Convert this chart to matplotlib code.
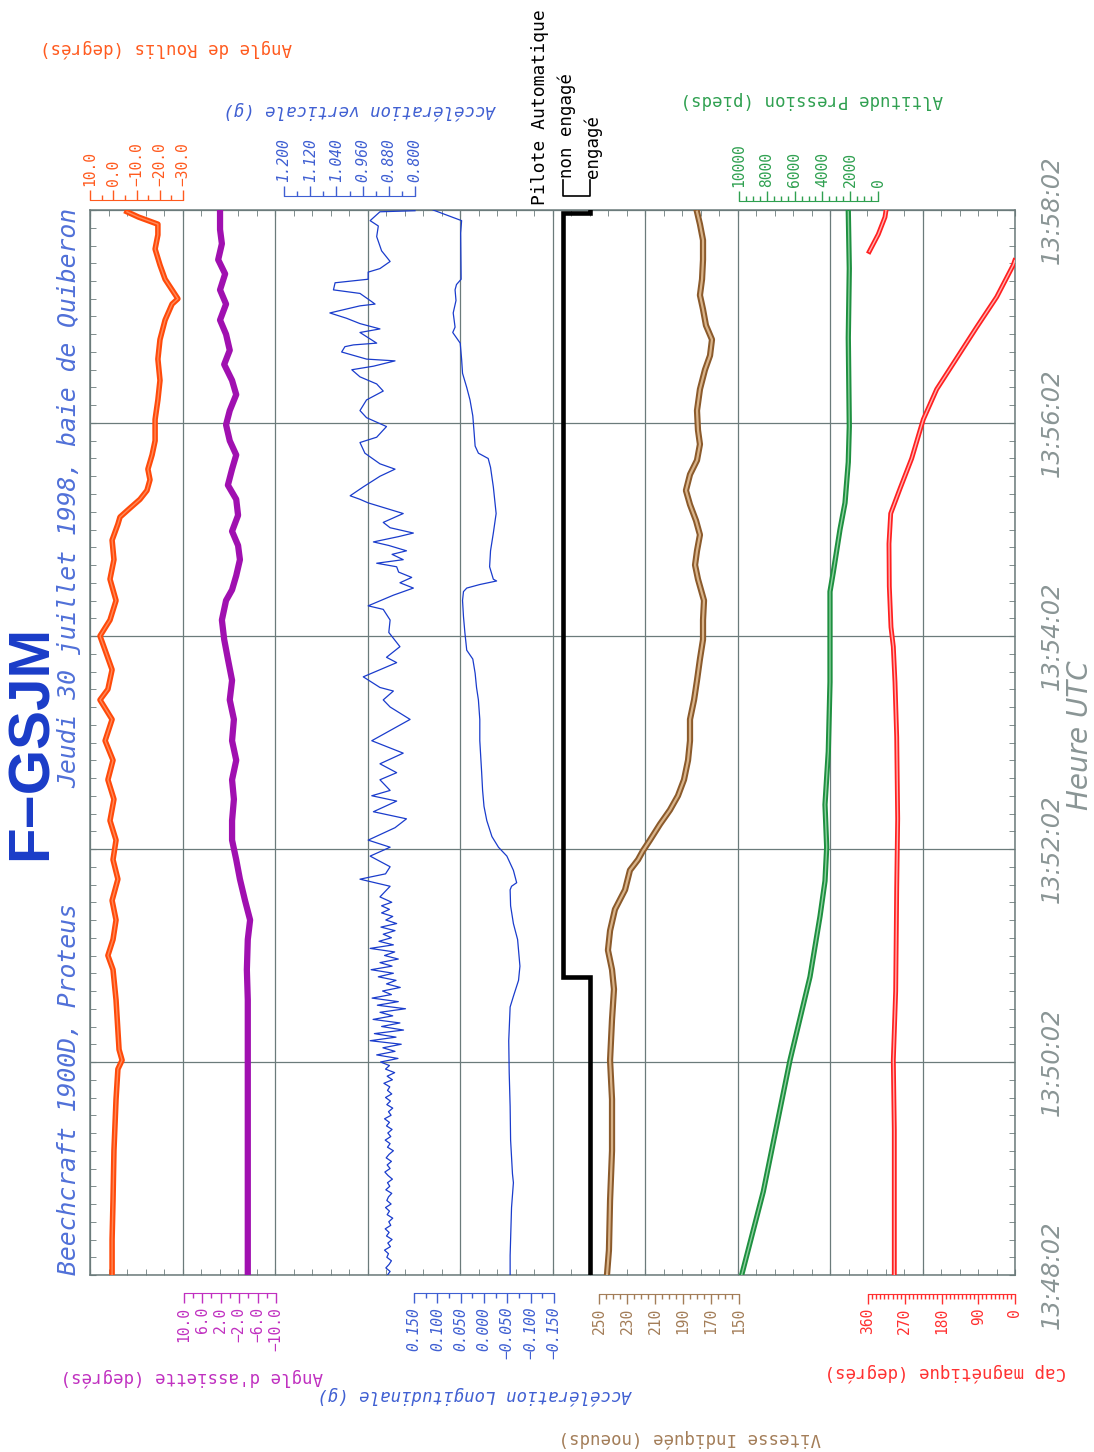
import numpy as np
import matplotlib.pyplot as plt
from matplotlib.ticker import MultipleLocator
from matplotlib.transforms import blended_transform_factory
from matplotlib.lines import Line2D

plt.rcParams['font.family'] = ['DejaVu Sans Mono', 'DejaVu Sans']

# ---- data (time in seconds after 13:48:02) ----
roll_t = [0, 20, 42, 70, 99, 116, 121, 127, 155, 172, 180, 189, 200, 211, 223, 234, 245, 256, 268, 279,
          290, 301, 313, 324, 330, 341, 352, 360, 369, 380, 392, 403, 414, 423, 427, 431, 437, 442, 448,
          454, 462, 470, 482, 493, 504, 516, 527, 538, 547, 550, 555, 561, 569, 578, 586, 592, 596, 599]
roll_v = [0.5, 0.5, 0.1, -0.3, -1.2, -2.0, -3.8, -2.5, -1.2, 0.1, 2.3, 0.1, -1.2, 0.5, -2.0, 0.1, -1.2, 1.4,
          -0.3, 2.3, 0.1, 3.5, 0.5, 5.7, 2.3, 0.5, 3.5, 5.7, 1.4, -1.2, 1.4, -0.3, 0.5, -2.0, -2.9, -6.3,
          -11.5, -14.5, -15.8, -14.9, -16.7, -18.0, -18.0, -19.2, -20.1, -19.2, -20.1, -22.3, -25.3, -27.8,
          -25.3, -22.3, -20.1, -18.0, -19.2, -19.2, -10.9, -5.9]

pitch_t = [0, 42, 99, 155, 172, 189, 200, 211, 223, 234, 245, 256, 268, 279, 290, 301, 313, 324, 335, 347,
           358, 369, 380, 386, 394, 403, 411, 419, 428, 437, 445, 454, 462, 470, 479, 487, 496, 504, 513,
           521, 530, 538, 547, 555, 564, 572, 581, 589, 599]
pitch_v = [-3.9, -3.9, -3.9, -3.9, -3.7, -3.9, -4.4, -3.3, -2.2, -1.4, -0.5, -0.5, -0.9, -0.5, -1.4, -0.5,
           -0.9, 0.0, -0.5, 0.4, 1.2, 1.7, 0.8, -0.5, -1.4, -2.2, -1.8, -0.5, -1.8, -1.4, 0.4, -0.5, -1.4,
           0.0, 0.8, 0.0, -1.4, -0.5, 1.2, 0.0, 0.8, 2.1, 0.8, 2.1, 1.0, 2.5, 1.7, 2.1, 2.1]

# vertical acceleration: 2 s samples from 0 to 116 s, then 118 to 210 s, then read points
accv_a = [0.884, 0.876, 0.889, 0.879, 0.872, 0.886, 0.881, 0.893, 0.875, 0.883, 0.870, 0.887, 0.879,
          0.891, 0.874, 0.880, 0.868, 0.885, 0.878, 0.890, 0.873, 0.886, 0.881, 0.871, 0.889, 0.877, 0.884,
          0.869, 0.882, 0.892, 0.876, 0.885, 0.872, 0.888, 0.879, 0.866, 0.884, 0.876, 0.891, 0.874, 0.883,
          0.870, 0.887, 0.878, 0.893, 0.873, 0.881, 0.868, 0.886, 0.875, 0.890, 0.871, 0.884, 0.877, 0.895,
          0.869, 0.885, 0.862, 0.890]
accv_b = [0.878, 0.905, 0.852, 0.917, 0.861, 0.898, 0.842, 0.937, 0.858, 0.924, 0.835, 0.902, 0.846,
          0.928, 0.868, 0.907, 0.829, 0.915, 0.851, 0.931, 0.872, 0.899, 0.845, 0.887, 0.858, 0.912, 0.866,
          0.934, 0.870, 0.907, 0.851, 0.893, 0.862, 0.937, 0.866, 0.910, 0.872, 0.897, 0.861, 0.904, 0.856,
          0.889, 0.868, 0.902, 0.878, 0.902, 0.871]
accv_c_t = [213, 219, 223, 226, 230, 236, 241, 245, 252, 257, 261, 267, 270, 273, 279, 283, 288, 294, 301,
            313, 320, 324, 329, 331, 337, 345, 348, 354, 362, 369, 375, 377, 383, 387, 390, 393, 396, 399,
            401, 403, 406, 408, 411, 413, 416, 418, 421, 424, 429, 433, 435, 437, 439, 444, 450, 454, 457,
            463, 469, 472, 478, 483, 487, 493, 498, 502, 506, 510, 512, 515, 516, 520, 523, 524, 525, 531,
            533, 536, 539, 542, 546, 547, 549, 553, 555, 559, 561, 565, 567, 571, 577, 585, 591, 594, 599,
            599.6]
accv_c_v = [0.907, 0.876, 0.968, 0.890, 0.876, 0.937, 0.876, 0.943, 0.861, 0.826, 0.927,
            0.856, 0.932, 0.876, 0.907, 0.856, 0.907, 0.836, 0.932, 0.815, 0.876, 0.897, 0.866, 0.907, 0.958,
            0.856, 0.887, 0.846, 0.880, 0.876, 0.897, 0.943, 0.866, 0.805, 0.846, 0.810, 0.850, 0.856, 0.917,
            0.836, 0.870, 0.826, 0.880, 0.927, 0.850, 0.805, 0.876, 0.897, 0.836, 0.907, 0.943, 0.968, 0.998,
            0.958, 0.907, 0.861, 0.907, 0.953, 0.968, 0.917, 0.887, 0.948, 0.968, 0.948, 0.897, 0.917, 0.968,
            0.993, 0.927, 0.861, 0.948, 1.024, 1.014, 0.988, 0.917, 0.968, 0.907, 0.968, 1.009, 1.060, 0.968,
            0.922, 0.937, 0.968, 1.049, 1.044, 0.943, 0.943, 0.907, 0.876, 0.902, 0.917, 0.912, 0.937, 0.907,
            0.800]

accl_t = [0, 11, 20, 38, 52, 57, 76, 95, 114, 132, 151, 157, 166, 174, 189, 198, 208, 217, 219, 221, 228,
          236, 241, 247, 256, 264, 273, 283, 292, 301, 313, 324, 331, 339, 347, 352, 362, 371, 380, 385,
          387, 389, 391, 392, 399, 408, 418, 429, 444, 455, 460, 463, 467, 474, 484, 493, 500, 508, 516,
          525, 528, 531, 534, 542, 549, 555, 558, 561, 587, 594, 600]
accl_v = [-0.056, -0.056, -0.057, -0.059, -0.063, -0.061, -0.057, -0.056, -0.054, -0.053, -0.056, -0.063,
          -0.074, -0.077, -0.072, -0.063, -0.057, -0.056, -0.059, -0.070, -0.063, -0.049, -0.031, -0.017,
          -0.006, 0.000, 0.003, 0.005, 0.007, 0.009, 0.009, 0.012, 0.016, 0.019, 0.024, 0.037, 0.041, 0.044,
          0.046, 0.044, 0.037, 0.009, -0.027, -0.020, -0.012, -0.014, -0.020, -0.026, -0.020, -0.014,
          -0.009, 0.012, 0.019, 0.021, 0.024, 0.030, 0.037, 0.046, 0.048, 0.051, 0.059, 0.067, 0.062,
          0.066, 0.060, 0.062, 0.059, 0.049, 0.050, 0.048, 0.109]

pilot_t = [0, 168, 598.5, 600]
pilot_v = [0, 1, 0, 0]  # 0 = engagé, 1 = non engagé

speed_t = [0, 14, 42, 70, 99, 121, 144, 161, 172, 183, 194, 206, 217, 228, 234, 239, 245, 254, 262, 270,
           279, 290, 301, 313, 324, 335, 347, 358, 369, 380, 392, 400, 408, 417, 425, 434, 442, 451, 459,
           468, 476, 487, 499, 510, 518, 527, 535, 544, 552, 561, 572, 583, 592, 599]
speed_v = [244.3, 242.9, 242.1, 240.7, 240.7, 242.1, 240.7, 239.3, 240.7, 243.6, 242.1, 238.6, 231.4,
           227.9, 222.1, 218.6, 213.6, 206.4, 199.3, 193.6, 189.3, 186.4, 185.0, 185.0, 182.1, 180.0,
           177.9, 175.7, 175.7, 175.0, 179.3, 181.4, 180.0, 177.9, 180.7, 185.0, 187.9, 185.0, 180.0,
           177.9, 179.3, 180.0, 177.9, 174.3, 170.7, 169.3, 173.6, 175.7, 177.9, 176.4, 175.7, 175.7,
           177.9, 180.0]

alt_t = [0, 47, 121, 168, 202, 222, 241, 265, 295, 334, 385, 396, 420, 435, 458, 478, 528, 567, 599]
alt_v = [9806, 8252, 6331, 4892, 4173, 3813, 3691, 3813, 3575, 3453, 3453, 3216, 2734, 2374, 2137, 2065,
         2137, 2065, 2137]

cap_t = [0, 82, 121, 160, 218, 257, 303, 334, 354, 365, 388, 412, 429, 443, 460, 482, 499, 516.5, 534,
         551, 569, 571.5, 576.6, 586.3, 596, 599.8]
cap_v = [295.6, 295.6, 298.0, 292.2, 289.7, 287.3, 289.7, 293.9, 298.0, 303.7, 307.8, 308.6, 304.4, 281.6,
         253.0, 224.6, 191.8, 142.8, 93.8, 44.8, 4.2, 0.5, 356.8, 334.8, 318.4, 315.9]

time_ticks = [0, 120, 240, 360, 480, 600]
t0 = 13 * 3600 + 48 * 60 + 2

# ---- figure ----
W, H = 1094, 1452
fig = plt.figure(figsize=(W / 100, H / 100), dpi=100)


def fx(x):
    return x / W


def fy(y):
    return 1 - y / H


L, R, T, B = 90, 1015, 210, 1275
FRAME = '#6b7b7b'
GREY = '#8a9595'

ax = fig.add_axes([fx(L), fy(B), (R - L) / W, (B - T) / H])
ax.set_xlim(0, 10)
ax.set_ylim(0, 600)
for s in ax.spines.values():
    s.set_color(FRAME)
    s.set_linewidth(1.1)
ax.set_xticks(np.arange(0, 11, 1))
ax.xaxis.set_minor_locator(MultipleLocator(0.2))
ax.tick_params(axis='x', which='both', direction='in', top=True, bottom=True,
               labelbottom=False, length=4, color=FRAME)


def hms(t):
    s = t0 + int(round(t))
    return f"{s // 3600}:{s % 3600 // 60:02d}:{s % 60:02d}"


ax.set_yticks(time_ticks, [hms(t) for t in time_ticks], family='DejaVu Sans', fontstyle='italic',
              fontsize=17.5, color=GREY, rotation=90, va='center', ha='left')
ax.yaxis.set_minor_locator(MultipleLocator(10))
ax.tick_params(axis='y', which='both', direction='in', left=True, right=True, labelleft=False,
               labelright=True, length=4.5, color=FRAME, pad=18)
ax.grid(True, which='major', color=FRAME, lw=0.9)
ax.set_axisbelow(True)


def channel(v1, p1, v2, p2):
    c = fig.add_axes(ax.get_position().bounds, sharey=ax)
    k = (v2 - v1) / (p2 - p1)
    c.set_xlim(v1 + (L - p1) * k, v1 + (R - p1) * k)
    c.axis('off')
    return c


def scale(v1, p1, v2, p2, ybar, side, major, minor, fmt, color, italic=False):
    s = fig.add_axes([fx(p1), fy(ybar), (p2 - p1) / W, 1e-4])
    s.set_xlim(v1, v2)
    s.patch.set_visible(False)
    for k in s.spines:
        s.spines[k].set_visible(k == side)
    s.spines[side].set_color(color)
    s.set_yticks([])
    if side == 'top':
        s.xaxis.tick_top()
    else:
        s.xaxis.tick_bottom()
    s.set_xticks(major, [(fmt % v).replace('-', '\u2212') for v in major], fontsize=10.5,
                 fontstyle='italic' if italic else 'normal', color=color, rotation=90)
    s.set_xticks(minor, minor=True)
    s.tick_params(which='major', direction='out', length=7, width=1, color=color, pad=3)
    s.tick_params(which='minor', direction='out', length=3.5, width=1, color=color)
    return s


def title(x, y, txt, color, italic=False):
    fig.text(fx(x), fy(y), txt, rotation=180, ha='center', va='center', fontsize=12.5,
             color=color, fontstyle='italic' if italic else 'normal')


def trace(c, t, v, outer, inner, lw_out, lw_in):
    c.plot(v, t, color=outer, lw=lw_out, solid_joinstyle='round')
    if inner:
        c.plot(v, t, color=inner, lw=lw_in, solid_joinstyle='round')


C_ROLL, C_PITCH, C_ACC = '#ff5a1e', '#c030c0', '#3f5fd2'
C_SPD, C_ALT, C_CAP = '#a37d58', '#2fa050', '#ff3030'

# roulis
c = channel(10, 90, -30, 183)
trace(c, roll_t, roll_v, '#ff4a0a', '#ff8a5a', 4.0, 1.0)
scale(10, 90, -30, 183, 200, 'top', [10, 0, -10, -20, -30], np.arange(-30, 10.1, 5), '%.1f', C_ROLL)
title(166, 48, 'Angle de Roulis (degrés)', C_ROLL)

# assiette
c = channel(10, 183.5, -10, 276)
trace(c, pitch_t, pitch_v, '#a010b0', None, 4.5, 0)
scale(10, 183.5, -10, 276, 1293, 'bottom', [10, 6, 2, -2, -6, -10], np.arange(-10, 10.1, 2), '%.1f', C_PITCH)
title(192, 1377, "Angle d'assiette (degrés)", C_PITCH)

# accélération verticale
c = channel(1.2, 284, 0.8, 415)
accv_t = np.concatenate([np.arange(0, 117, 2), np.arange(118, 211, 2), accv_c_t])
accv_v = np.concatenate([accv_a, accv_b, accv_c_v])
c.plot(accv_v, accv_t, color='#1a3ccc', lw=0.9)
scale(1.2, 284, 0.8, 415, 196, 'top', [1.2, 1.12, 1.04, 0.96, 0.88, 0.8], np.arange(0.8, 1.201, 0.04),
      '%.3f', C_ACC, italic=True)
title(360, 110, 'Accélération verticale (g)', C_ACC, italic=True)

# accélération longitudinale
c = channel(0.15, 414, -0.15, 554)
c.plot(accl_v, accl_t, color='#1a3ccc', lw=0.9)
scale(0.15, 414, -0.15, 554, 1293, 'bottom', [0.15, 0.1, 0.05, 0.0, -0.05, -0.1, -0.15],
      np.arange(-0.15, 0.151, 0.025), '%.3f', C_ACC, italic=True)
title(475, 1395, 'Accélération Longitudinale (g)', C_ACC, italic=True)

# pilote automatique
c = channel(1, 563, 0, 590)
c.plot(pilot_v, pilot_t, color='black', lw=3.3, drawstyle='steps-pre', solid_joinstyle='miter')
tr = blended_transform_factory(c.transData, fig.transFigure)
fig.add_artist(Line2D([1, 1, 0, 0], [fy(180), fy(196), fy(196), fy(180)], transform=tr, color='black', lw=1.2))
fig.text(fx(567), fy(178), 'non engagé', rotation=90, rotation_mode='anchor', ha='left',
         va='center', fontsize=12.5, color='black')
fig.text(fx(593), fy(178), 'engagé', rotation=90, rotation_mode='anchor', ha='left',
         va='center', fontsize=12.5, color='black')
fig.text(fx(540), fy(205), 'Pilote Automatique', rotation=90, rotation_mode='anchor', ha='left',
         va='center', fontsize=13, color='black')

# vitesse
c = channel(250, 599, 150, 739)
trace(c, speed_t, speed_v, '#8b5a2b', '#d9b48a', 4.5, 1.6)
scale(250, 599, 150, 739, 1294, 'bottom', np.arange(250, 149, -20), np.arange(150, 251, 5), '%d', C_SPD)
title(690, 1438, 'Vitesse Indiquée (noeuds)', C_SPD)

# altitude
c = channel(10000, 739, 0, 878)
trace(c, alt_t, alt_v, '#1e9040', '#8fd0a0', 3.8, 1.0)
scale(10000, 739, 0, 878, 201, 'top', np.arange(10000, -1, -2000), np.arange(0, 10001, 500), '%d', C_ALT)
title(812, 100, 'Altitude Pression (pieds)', C_ALT)

# cap
c = channel(360, 868, 0, 1015)
ct = np.array(cap_t, float)
cv = np.array(cap_v, float)
jump = np.where(np.abs(np.diff(cv)) > 180)[0] + 1
ct = np.insert(ct, jump, np.nan)
cv = np.insert(cv, jump, np.nan)
trace(c, ct, cv, '#ff2020', '#ffb0b0', 3.5, 1.0)
scale(360, 868, 0, 1015, 1294, 'bottom', [360, 270, 180, 90, 0], np.arange(0, 361, 10), '%d', C_CAP)
title(945, 1372, 'Cap magnétique (degrés)', C_CAP)

# titles
fig.text(fx(32), fy(742), 'F\u2212GSJM', rotation=90, ha='center', va='center', family='Liberation Sans',
         fontweight='bold', fontsize=42, color='#1a3cc8')
fig.text(fx(69), fy(1275), 'Beechcraft 1900D, Proteus', rotation=90, rotation_mode='anchor', ha='left',
         va='center', fontstyle='italic', fontsize=17.8, color='#5070d8')
fig.text(fx(69), fy(788), 'Jeudi 30 juillet 1998, baie de Quiberon', rotation=90, rotation_mode='anchor',
         ha='left', va='center', fontstyle='italic', fontsize=17.8, color='#5070d8')
fig.text(fx(1080), fy(735), 'Heure UTC', rotation=90, ha='center', va='center', family='DejaVu Sans',
         fontstyle='italic', fontsize=20, color=GREY)

fig.savefig('out.png', dpi=100)
